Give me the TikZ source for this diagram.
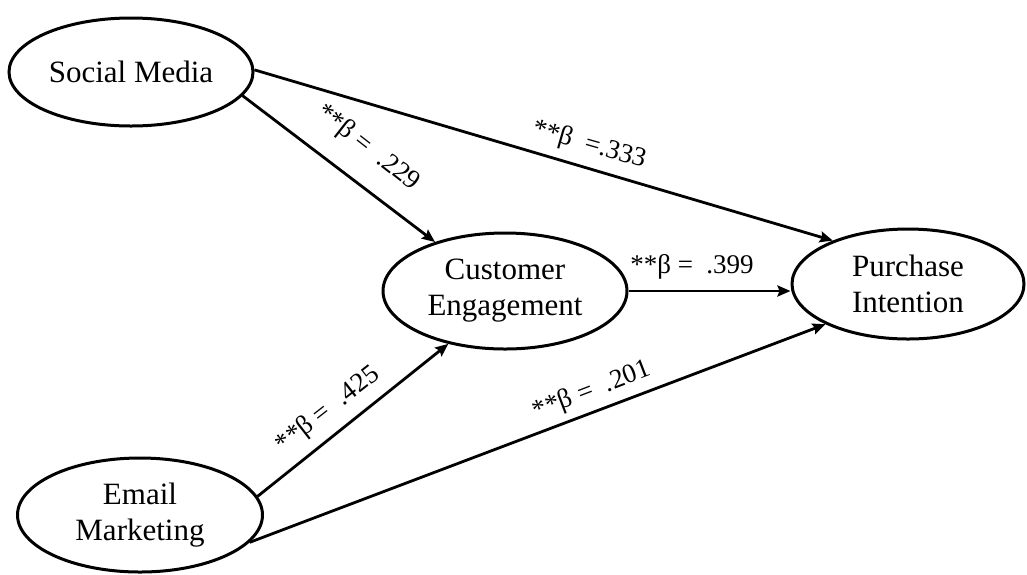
\documentclass[tikz,border=0pt]{standalone}
\usepackage{fontspec}
\setmainfont{Liberation Serif}
\usetikzlibrary{shapes.geometric,arrows.meta}
\begin{document}
\begin{tikzpicture}[x=1pt,y=-1pt,
  var/.style={ellipse,draw,line width=3pt,inner sep=0pt,align=center,
    font=\fontsize{31}{36}\selectfont},
  conn/.style={line width=2.8pt,-{Stealth[length=13pt,width=11pt,inset=2pt]}},
  coef/.style={font=\fontsize{27}{30}\selectfont,inner sep=1pt}]
\useasboundingbox[fill=white] (0,0) rectangle (1027,574);
\node[var,minimum width=244pt,minimum height=108pt] (sm) at (131,72) {Social Media};
\node[var,minimum width=244pt,minimum height=116pt] (ce) at (505,291) {Customer\\Engagement};
\node[var,minimum width=232pt,minimum height=110pt] (pi) at (908,284) {Purchase\\Intention};
\node[var,minimum width=245pt,minimum height=114pt] (em) at (140,515) {Email\\Marketing};
\draw[conn] (sm.-12.7) -- (ce.145);
\draw[conn] (sm.1) -- (pi.150);
\draw[conn] (ce.east) -- (ce.east -| pi.west);
\draw[conn] (em.9.7) -- (ce.223.4);
\draw[conn] (em.-14.5) -- (pi.206.8);
\node[coef,rotate=-38] (l1) at (368,148) {**β = \ .229};
\node[coef,rotate=-16] (l2) at (589,145) {**β \ =.333};
\node[coef] (l3) at (692,267) {**β = \ .399};
\node[coef,rotate=38] (l4) at (328,410) {**β = \ .425};
\node[coef,rotate=21] (l5) at (592,391) {**β = \ .201};
\end{tikzpicture}
\end{document}
